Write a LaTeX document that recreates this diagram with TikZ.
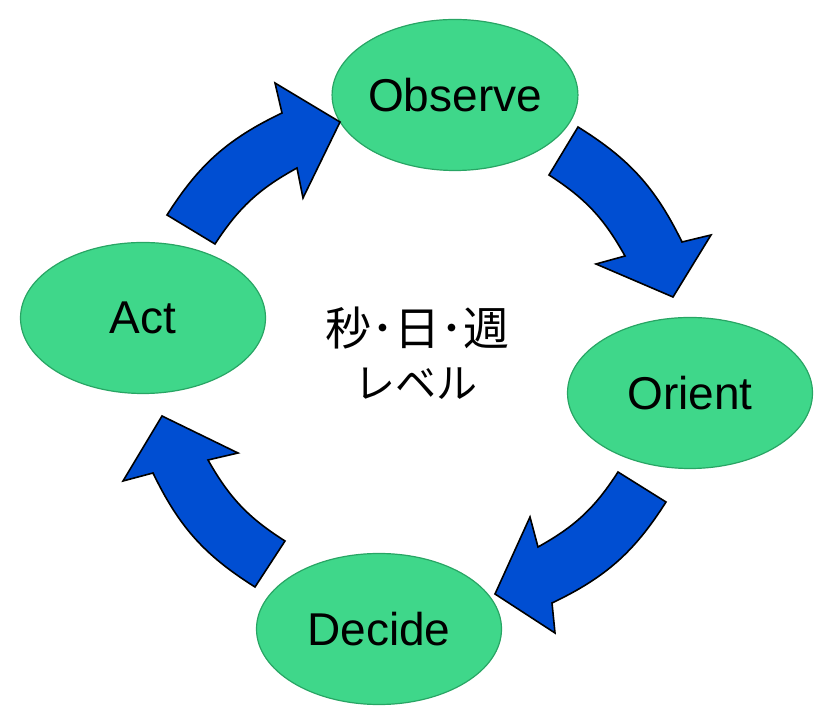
\documentclass[tikz,border=0pt]{standalone}
\usepackage{fontspec}
\setmainfont{Liberation Sans}
\newfontfamily\cjk{Noto Sans CJK JP}
\definecolor{ovalgreen}{RGB}{63,215,138}
\definecolor{ovalborder}{RGB}{40,165,100}
\definecolor{arrowblue}{RGB}{0,78,210}
\tikzset{
  stage/.style={ellipse, draw=ovalborder, line width=1.2pt, fill=ovalgreen,
    minimum width=245pt, minimum height=151pt, inner sep=0pt,
    font=\fontsize{46}{50}\selectfont},
  blockarrow/.style={fill=arrowblue, draw=black, line width=1.6pt, line join=miter}
}
\usetikzlibrary{shapes.geometric}
\begin{document}
\begin{tikzpicture}[x=1pt,y=1pt]
\useasboundingbox (0,0) rectangle (816,706);
% stages
\node[stage] (observe) at (455,611) {Observe};
\node[stage] (orient) at (690,313) {Orient};
\node[stage] (decide) at (379,77) {Decide};
\node[stage] (act) at (143,388) {Act};
% centre text
\node[font=\cjk\fontsize{46}{50}\selectfont, inner sep=0pt] (centre1) at (417,378) {秒･日･週};
\node[font=\cjk\fontsize{41}{45}\selectfont, inner sep=0pt] (centre2) at (416,322) {レベル};
% arrows
% Act -> Observe
\draw[blockarrow] (215,462) -- (167,491) to[bend left=16] (282,593) -- (275,623) -- (340,584)
  -- (303,508) -- (297,538) to[bend right=14] (215,462) -- cycle;
% Observe -> Orient
\draw[blockarrow] (578,579) -- (549,531) to[bend left=14] (625,450) -- (596,442) -- (673,409)
  -- (711,471) -- (682,464) to[bend right=16] (578,579) -- cycle;
% Orient -> Decide
\draw[blockarrow] (618,234) -- (666,204) to[bend left=16] (552,103) -- (555,73) -- (495,112)
  -- (530,189) -- (538,159) to[bend right=14] (618,234) -- cycle;
% Decide -> Act
\draw[blockarrow] (285,165) -- (255,119) to[bend left=16] (153,233) -- (123,225) -- (162,290)
  -- (238,253) -- (208,246) to[bend right=14] (285,165) -- cycle;
\end{tikzpicture}
\end{document}
